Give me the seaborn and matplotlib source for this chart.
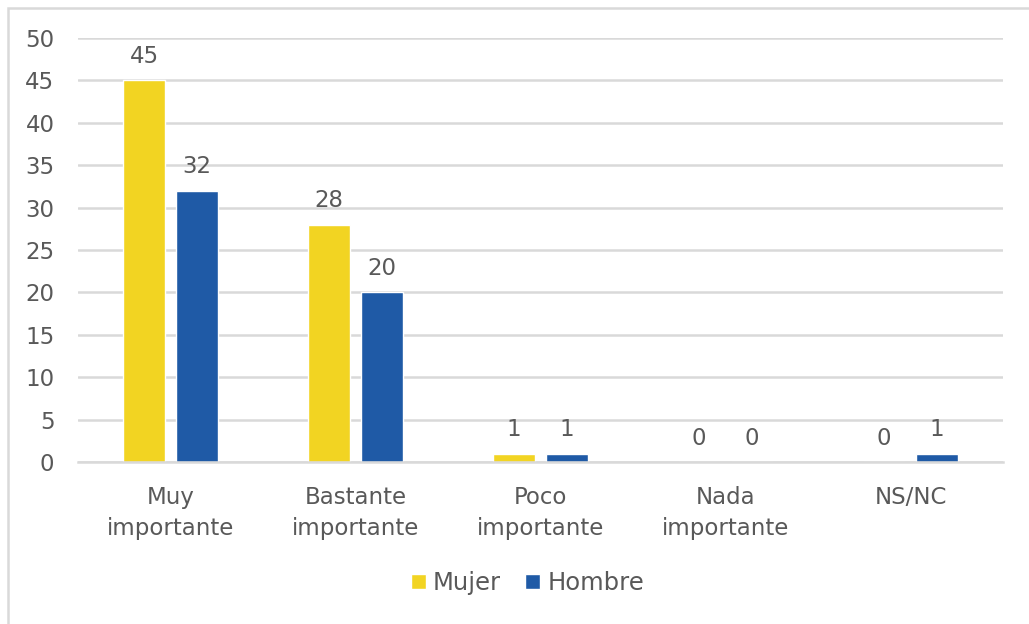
import seaborn as sns
import matplotlib
matplotlib.use("Agg")
import matplotlib.pyplot as plt
import pandas as pd
from matplotlib.patches import Rectangle

categories = ["Muy\nimportante", "Bastante\nimportante", "Poco\nimportante", "Nada\nimportante", "NS/NC"]
mujer = [45, 28, 1, 0, 0]
hombre = [32, 20, 1, 0, 1]
series = ["Mujer", "Hombre"]
colors = ["#F2D422", "#1F5AA6"]
text_color = "#595959"
grid_color = "#D9D9D9"

df = pd.DataFrame({
    "categoria": categories * 2,
    "valor": mujer + hombre,
    "serie": [series[0]] * len(categories) + [series[1]] * len(categories),
})

sns.set_style("white")
plt.rcParams['font.family'] = ['DejaVu Sans']

fig = plt.figure(figsize=(10.29, 6.24), dpi=100)
ax = fig.add_axes([0.0758, 0.2596, 0.899, 0.6794])

sns.barplot(data=df, x="categoria", y="valor", hue="serie", palette=colors,
            width=0.57, gap=0.2, ax=ax, saturation=1, legend=True)

for cont in ax.containers:
    ax.bar_label(cont, fmt="%d", padding=9, fontsize=16.5, color=text_color)

ax.set_ylim(0, 50)
ax.set_yticks(range(0, 51, 5))
ax.yaxis.grid(True, color=grid_color, linewidth=1.8)
ax.set_axisbelow(True)
ax.set_xlabel("")
ax.set_ylabel("")
for s in ["top", "right", "left"]:
    ax.spines[s].set_visible(False)
ax.spines["bottom"].set_color(grid_color)
ax.spines["bottom"].set_linewidth(1.8)
ax.tick_params(axis="both", length=0, labelsize=16.5, colors=text_color)
ax.tick_params(axis="x", pad=17)
ax.tick_params(axis="y", pad=17)
for lbl in ax.get_xticklabels():
    lbl.set_linespacing(1.45)

leg = ax.legend(loc="center", bbox_to_anchor=(0.486, -0.285), ncol=2, frameon=False,
                fontsize=17.5, handlelength=0.6, handleheight=0.6, handletextpad=0.3,
                columnspacing=1.0)
for t in leg.get_texts():
    t.set_color(text_color)

fig.patches.append(Rectangle((8 / 1029, -0.1), 1.2, 1 - 8 / 624 + 0.1,
                             transform=fig.transFigure, fill=False,
                             edgecolor=grid_color, linewidth=1.8))

fig.savefig("out.png", dpi=100)
